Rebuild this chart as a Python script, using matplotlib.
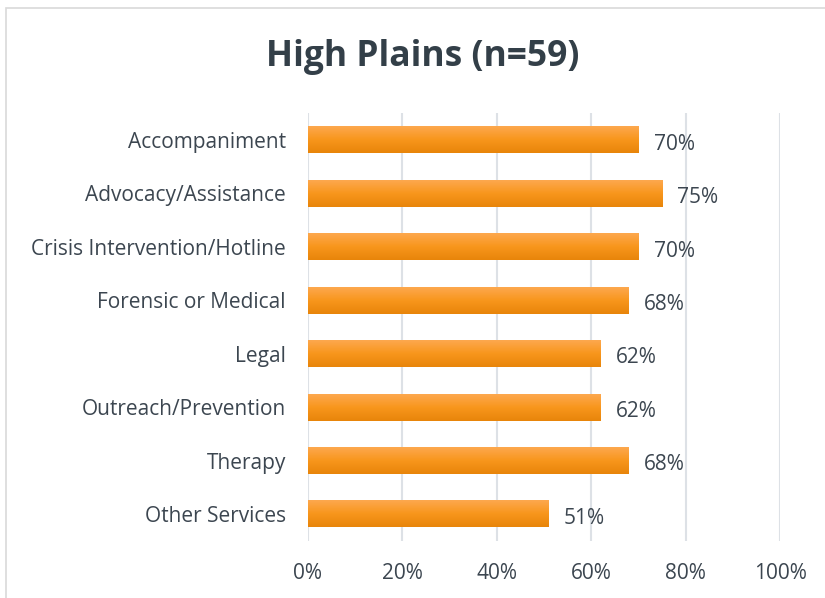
import numpy as np
import matplotlib.pyplot as plt
from matplotlib.colors import LinearSegmentedColormap
from matplotlib.patches import Rectangle

#------------------------------------------------------------------
categories = ["Accompaniment", "Advocacy/Assistance", "Crisis Intervention/Hotline",
              "Forensic or Medical", "Legal", "Outreach/Prevention", "Therapy",
              "Other Services"]
values = [70, 75, 70, 68, 62, 62, 68, 51]
xticks = [0, 20, 40, 60, 80, 100]
title = "High Plains (n=59)"

FONT = "Open Sans"
TEXT = "#3c4650"
FONTSIZE = 15
BAR_H = 0.5
#------------------------------------------------------------------
plt.rcParams['font.family'] = [FONT, 'DejaVu Sans']

fig = plt.figure(figsize=(8.25, 5.98), dpi=100)
fig.patches.append(Rectangle((6/825, -0.1), 1.1, 1 - 8/598 + 0.1, transform=fig.transFigure,
                             fill=False, edgecolor="#d9d9d9", linewidth=1.2))
ax = fig.add_axes([308/825, 0.0958, 472/825, 0.7147])

grad = LinearSegmentedColormap.from_list("bar", ["#FDA84E", "#F8961C", "#E8850A"])
g = np.linspace(0, 1, 64).reshape(-1, 1)
for i, v in enumerate(values):
    ax.imshow(g, cmap=grad, aspect="auto", interpolation="bicubic",
              extent=(0, v, i + BAR_H / 2, i - BAR_H / 2), zorder=2)
    ax.annotate(f"{v}%", (v, i), xytext=(11, -3), textcoords="offset points",
                va="center", ha="left", fontsize=FONTSIZE, color=TEXT)

ax.set_xlim(0, 100)
ax.set_ylim(len(categories) - 0.5, -0.5)
ax.set_xticks(xticks)
ax.set_xticklabels([f"{t}%" for t in xticks], fontsize=FONTSIZE, color=TEXT)
ax.set_yticks(range(len(categories)))
ax.set_yticklabels(categories, fontsize=FONTSIZE, color=TEXT)
ax.tick_params(length=0)
ax.tick_params(axis="x", pad=16)
ax.tick_params(axis="y", pad=16)
ax.grid(axis="x", color="#dde1e6", linewidth=1.5, zorder=0)
ax.set_axisbelow(True)
for s in ax.spines.values():
    s.set_visible(False)

fig.text(0.512, 1 - 57/598, title, ha="center", va="center", fontsize=25.5,
         fontweight="bold", color="#333f48")

fig.savefig("out.png", dpi=100)
